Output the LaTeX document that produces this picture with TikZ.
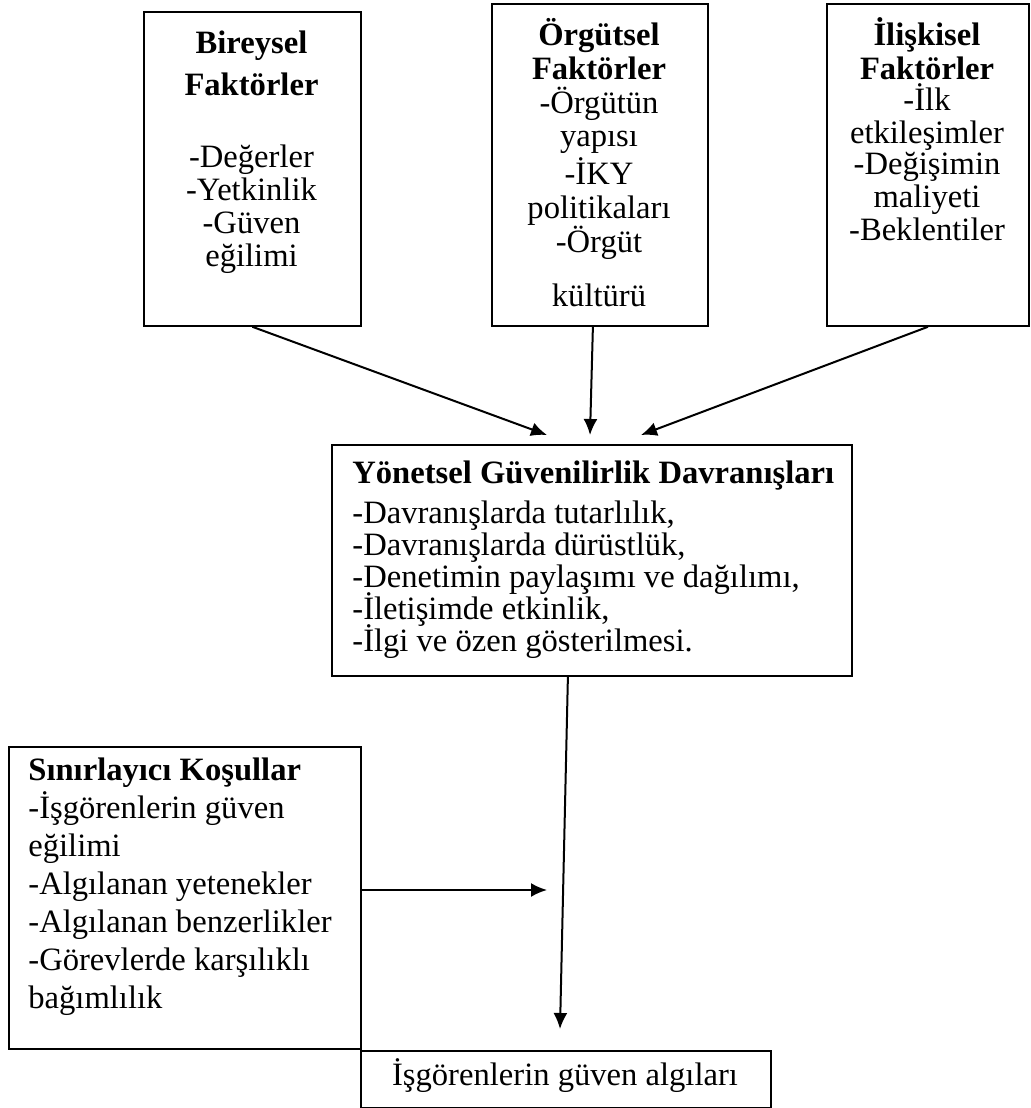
\documentclass[tikz,border=0pt]{standalone}
\usepackage{fontspec}
\setmainfont{Liberation Serif}
\usetikzlibrary{arrows.meta,positioning}
\tikzset{
  % Kutular
  factbox/.style = {draw, line width=0.9pt, rectangle, inner sep=0pt, anchor=north west},
  % Satirlar
  txt/.style     = {anchor=base, inner sep=0pt, font=\fontsize{16.3}{19}\selectfont},
  txtl/.style    = {txt, anchor=base west},
  % Oklar
  arr/.style     = {-{Latex[length=8pt,width=7pt]}, line width=1pt},
}
\begin{document}
\begin{tikzpicture}[x=0.5pt,y=-0.5pt]
  \useasboundingbox (0,0) rectangle (1031,1108);
  % Kutular
  \node[factbox, minimum width=108.5pt, minimum height=157pt] (bir) at (143,11) {};
  \node[factbox, minimum width=108pt, minimum height=161pt] (org) at (491,3) {};
  \node[factbox, minimum width=101pt, minimum height=161pt] (ili) at (826,3) {};
  \node[factbox, minimum width=260pt, minimum height=115.5pt] (yon) at (331,444) {};
  \node[factbox, minimum width=176pt, minimum height=151pt] (sin) at (8,746) {};
  \node[factbox, minimum width=205pt, minimum height=28.5pt] (alg) at (360,1050) {};
  % Metinler
  \foreach \t/\y [count=\i] in {\textbf{Bireysel}/53, \textbf{Faktörler}/95,
      -Değerler/167, -Yetkinlik/200, -Güven/233, eğilimi/266}
    \node[txt] (bir\i) at (251.5,\y) {\t};
  \foreach \t/\y [count=\i] in {\textbf{Örgütsel}/45, \textbf{Faktörler}/79,
      -Örgütün/113, yapısı/146, -İKY/184, politikaları/218, -Örgüt/252, kültürü/306}
    \node[txt] (org\i) at (599,\y) {\t};
  \foreach \t/\y [count=\i] in {\textbf{İlişkisel}/45, \textbf{Faktörler}/79,
      -İlk/110, etkileşimler/143, -Değişimin/174, maliyeti/207, -Beklentiler/240}
    \node[txt] (ili\i) at (927,\y) {\t};
  \foreach \t/\y [count=\i] in {\textbf{Yönetsel Güvenilirlik Davranışları}/483,
      {-Davranışlarda tutarlılık,}/523, {-Davranışlarda dürüstlük,}/555,
      {-Denetimin paylaşımı ve dağılımı,}/587, {-İletişimde etkinlik,}/619,
      {-İlgi ve özen gösterilmesi.}/651}
    \node[txtl] (yon\i) at (352,\y) {\t};
  \foreach \t/\y [count=\i] in {\textbf{Sınırlayıcı Koşullar}/780,
      -İşgörenlerin güven/818, eğilimi/856, -Algılanan yetenekler/894,
      -Algılanan benzerlikler/932, -Görevlerde karşılıklı/970, bağımlılık/1008}
    \node[txtl] (sin\i) at (28,\y) {\t};
  \node[txt] (alg1) at (565,1085) {İşgörenlerin güven algıları};
  % Ok uclari
  \coordinate (t1) at (547,435);
  \coordinate (t2) at (590,435);
  \coordinate (t3) at (641,435);
  \coordinate (t4) at (560,1029);
  \coordinate (t5) at (547,890);
  % Oklar
  \draw[arr] (bir.south) -- (t1);
  \draw[arr] ([xshift=-3.5pt]org.south) -- (t2);
  \draw[arr] (ili.south) -- (t3);
  \draw[arr] ([xshift=-12pt]yon.south) -- (t4);
  \draw[arr] (sin.east |- t5) -- (t5);
\end{tikzpicture}
\end{document}
